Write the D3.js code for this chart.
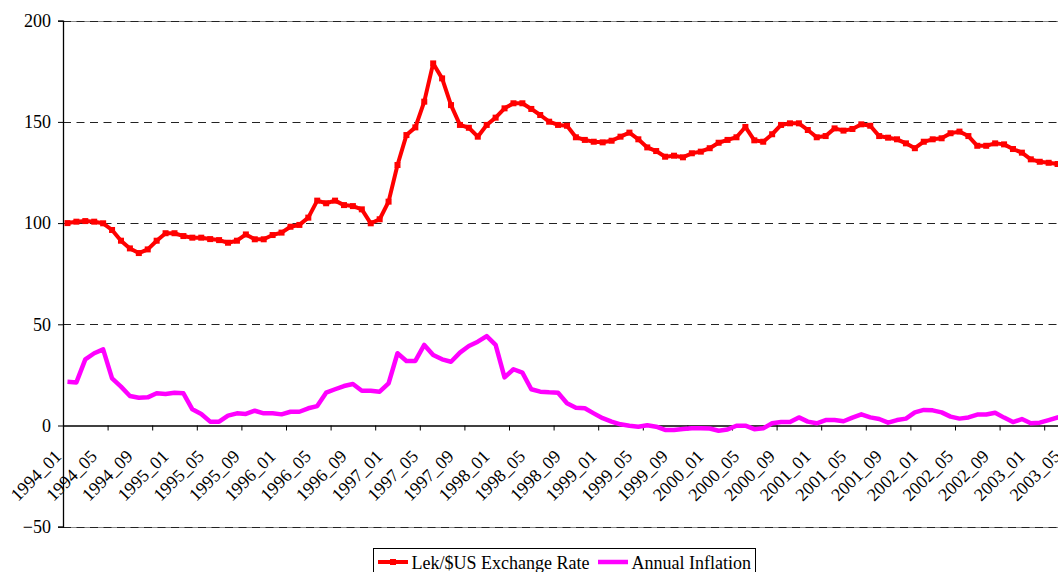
<!DOCTYPE html>
<html>
<head>
<meta charset="utf-8">
<script src="https://cdn.jsdelivr.net/npm/d3@7"></script>
<style>
  html, body { margin: 0; padding: 0; background: #fff; }
  svg { display: block; }
  text { font-family: "Liberation Serif", "Times New Roman", serif; fill: #000; }
</style>
</head>
<body>
<svg id="chart" width="1058" height="572"></svg>
<script>
const months = [
  "1994_01","1994_02","1994_03","1994_04","1994_05","1994_06","1994_07","1994_08","1994_09","1994_10","1994_11","1994_12",
  "1995_01","1995_02","1995_03","1995_04","1995_05","1995_06","1995_07","1995_08","1995_09","1995_10","1995_11","1995_12",
  "1996_01","1996_02","1996_03","1996_04","1996_05","1996_06","1996_07","1996_08","1996_09","1996_10","1996_11","1996_12",
  "1997_01","1997_02","1997_03","1997_04","1997_05","1997_06","1997_07","1997_08","1997_09","1997_10","1997_11","1997_12",
  "1998_01","1998_02","1998_03","1998_04","1998_05","1998_06","1998_07","1998_08","1998_09","1998_10","1998_11","1998_12",
  "1999_01","1999_02","1999_03","1999_04","1999_05","1999_06","1999_07","1999_08","1999_09","1999_10","1999_11","1999_12",
  "2000_01","2000_02","2000_03","2000_04","2000_05","2000_06","2000_07","2000_08","2000_09","2000_10","2000_11","2000_12",
  "2001_01","2001_02","2001_03","2001_04","2001_05","2001_06","2001_07","2001_08","2001_09","2001_10","2001_11","2001_12",
  "2002_01","2002_02","2002_03","2002_04","2002_05","2002_06","2002_07","2002_08","2002_09","2002_10","2002_11","2002_12",
  "2003_01","2003_02","2003_03","2003_04","2003_05"
];

const exchangeRate = [
  100.0, 100.7, 101.0, 100.7, 99.9, 96.6, 91.3, 87.5, 85.2, 87.0, 91.3, 95.0,
  95.0, 93.6, 92.8, 92.8, 92.1, 91.6, 90.3, 91.3, 94.4, 92.0, 92.0, 94.1,
  95.3, 98.2, 99.1, 102.7, 111.1, 109.8, 111.1, 108.9, 108.4, 106.8, 99.9, 101.9,
  110.6, 128.7, 143.5, 147.3, 160.0, 178.9, 171.5, 158.3, 148.5, 147.1, 142.7, 148.5,
  152.1, 156.7, 159.2, 159.2, 156.4, 153.4, 150.1, 148.5, 148.1, 142.4, 141.1, 140.2,
  139.9, 140.7, 142.7, 144.7, 141.4, 137.4, 135.6, 132.8, 133.3, 132.5, 134.5, 135.3,
  137.0, 139.7, 141.1, 142.4, 147.5, 140.9, 140.2, 143.9, 148.5, 149.3, 149.3, 146.0,
  142.4, 143.0, 146.8, 145.7, 146.5, 148.8, 148.1, 143.0, 142.2, 141.4, 139.4, 137.0,
  140.2, 141.4, 141.9, 144.4, 145.2, 143.0, 138.2, 138.2, 139.4, 138.9, 136.6, 134.8,
  131.5, 130.3, 129.8, 129.2, 128.6
];

const inflation = [
  21.6, 21.3, 32.7, 35.7, 37.6, 23.3, 19.2, 14.6, 13.7, 13.9, 15.9, 15.6,
  16.2, 15.9, 8.0, 5.7, 1.9, 1.9, 4.9, 6.0, 5.7, 7.3, 6.0, 6.0,
  5.5, 6.8, 6.8, 8.5, 9.6, 16.2, 17.9, 19.5, 20.5, 17.2, 17.2, 16.7,
  20.8, 35.7, 31.9, 31.9, 39.8, 34.8, 32.7, 31.5, 36.0, 39.3, 41.4, 44.2,
  39.8, 23.8, 27.8, 26.1, 17.9, 16.7, 16.4, 16.2, 11.0, 8.8, 8.5, 6.0,
  3.6, 1.9, 0.6, -0.1, -0.6, 0.1, -0.6, -2.2, -2.2, -1.7, -1.4, -1.4,
  -1.5, -2.6, -2.0, -0.1, -0.1, -1.8, -1.4, 1.1, 1.7, 1.7, 4.0, 1.9,
  1.1, 2.7, 2.7, 2.1, 3.9, 5.5, 4.0, 3.2, 1.4, 2.7, 3.4, 6.5,
  7.7, 7.5, 6.5, 4.4, 3.4, 4.0, 5.4, 5.4, 6.3, 3.9, 1.7, 3.2,
  1.1, 1.4, 2.7, 4.0, 5.0
];

const yTicks = [-50, 0, 50, 100, 150, 200];
const seriesNames = ["Lek/$US Exchange Rate", "Annual Inflation"];
const seriesColors = ["#FF0000", "#FF00FF"];
const labelEvery = 4;
const tickEvery = 5;

(function draw() {
  const svg = d3.select("#chart");
  const plotLeft = 63, plotTop = 20.7, plotBottom = 526.7;
  const bandW = 8.92;
  const plotRight = plotLeft + months.length * bandW;

  const x = d3.scaleBand().domain(months).range([plotLeft, plotRight]).paddingInner(0).paddingOuter(0);
  const xIdx = d3.scaleLinear().domain([0, months.length]).range([plotLeft, plotRight]);
  const y = d3.scaleLinear().domain([-50, 200]).range([plotBottom, plotTop]);
  const cx = m => x(m) + x.bandwidth() / 2;

  // plot border (top/bottom) in grey
  [200, -50].forEach(v => {
    svg.append("line").attr("x1", plotLeft).attr("x2", plotRight)
      .attr("y1", Math.round(y(v)) + 0.5).attr("y2", Math.round(y(v)) + 0.5)
      .attr("stroke", "#8a8a8a").attr("stroke-width", 1);
  });

  // gridlines
  svg.append("g").selectAll("line").data(yTicks.filter(v => v !== 0)).join("line")
    .attr("x1", plotLeft).attr("x2", plotRight)
    .attr("y1", d => Math.round(y(d)) + 0.5).attr("y2", d => Math.round(y(d)) + 0.5)
    .attr("stroke", "#222").attr("stroke-width", 1)
    .attr("stroke-dasharray", "8,5.5");

  // y axis
  const yAxis = d3.axisLeft(y).tickValues(yTicks).tickSize(5).tickPadding(7).tickFormat(d3.format("d"));
  const gy = svg.append("g").attr("transform", `translate(${plotLeft},0)`).call(yAxis);
  gy.attr("font-family", null).attr("font-size", null);
  gy.select(".domain").attr("stroke", "#000").attr("stroke-width", 1.3);
  gy.selectAll(".tick line").attr("stroke", "#000");
  gy.selectAll(".tick text").style("font-size", "18px").style("font-family", '"Liberation Serif", "Times New Roman", serif');

  // x axis at 0: tick marks every 5 categories (between categories)
  const tickIdx = d3.range(0, months.length + 1, tickEvery);
  const xTickAxis = d3.axisBottom(xIdx).tickValues(tickIdx).tickSize(5).tickFormat("").tickSizeOuter(0);
  const gx = svg.append("g").attr("transform", `translate(0,${y(0)})`).call(xTickAxis);
  gx.select(".domain").attr("stroke", "#000").attr("stroke-width", 1.3);
  gx.selectAll(".tick line").attr("stroke", "#000");

  // category labels every 4 months, rotated
  const labelMonths = months.filter((m, i) => i % labelEvery === 0);
  svg.append("g").selectAll("text").data(labelMonths).join("text")
    .attr("transform", d => `translate(${cx(d) - 5},${y(0) + 32}) rotate(-45)`)
    .attr("text-anchor", "end")
    .style("font-size", "18px")
    .text(d => d);

  // lines
  const lineGen = d3.line().x((d, i) => cx(months[i])).y(d => y(d));
  svg.append("path").datum(inflation)
    .attr("fill", "none").attr("stroke", seriesColors[1]).attr("stroke-width", 4.5)
    .attr("stroke-linejoin", "round").attr("d", lineGen);
  svg.append("path").datum(exchangeRate)
    .attr("fill", "none").attr("stroke", seriesColors[0]).attr("stroke-width", 4)
    .attr("stroke-linejoin", "round").attr("d", lineGen);
  svg.append("g").selectAll("rect").data(exchangeRate).join("rect")
    .attr("x", (d, i) => cx(months[i]) - 3).attr("y", d => y(d) - 3)
    .attr("width", 6).attr("height", 6).attr("fill", seriesColors[0]);

  // legend
  const lg = svg.append("g");
  lg.append("rect").attr("x", 373.5).attr("y", 548.5).attr("width", 382).attr("height", 32)
    .attr("fill", "#fff").attr("stroke", "#000").attr("stroke-width", 1);
  lg.append("line").attr("x1", 378).attr("x2", 408).attr("y1", 562).attr("y2", 562)
    .attr("stroke", seriesColors[0]).attr("stroke-width", 4);
  lg.append("rect").attr("x", 390).attr("y", 559).attr("width", 6).attr("height", 6).attr("fill", seriesColors[0]);
  lg.append("text").attr("x", 411.5).attr("y", 568.5).style("font-size", "18px").text(seriesNames[0]);
  lg.append("line").attr("x1", 598).attr("x2", 628).attr("y1", 562).attr("y2", 562)
    .attr("stroke", seriesColors[1]).attr("stroke-width", 4.5);
  lg.append("text").attr("x", 631.5).attr("y", 568.5).style("font-size", "18px").text(seriesNames[1]);
})();
</script>
</body>
</html>
